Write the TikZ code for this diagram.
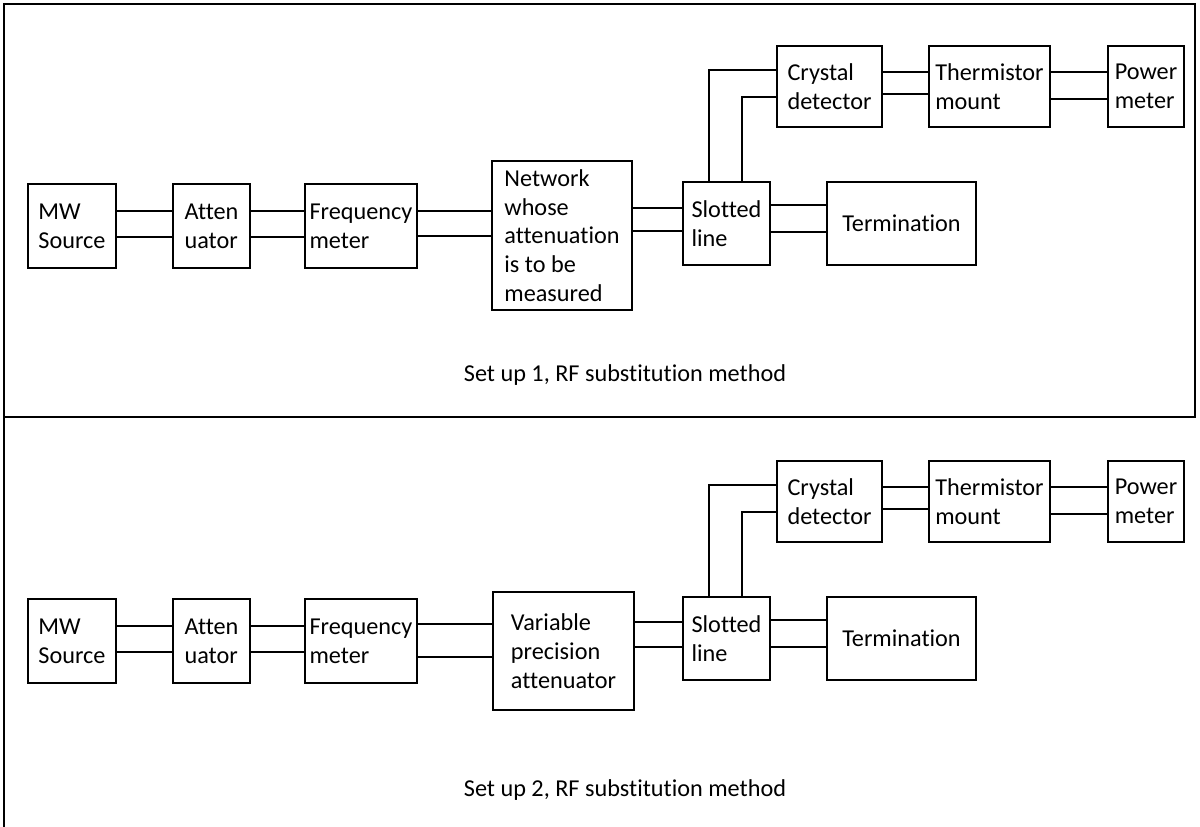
\documentclass[tikz,border=0pt]{standalone}
\usepackage{fontspec}
\setmainfont[Ligatures=NoCommon]{Carlito}

\begin{document}
\begin{tikzpicture}
		[x=0.02cm,y=-0.02cm,
		%Styles
		block/.style={draw,line width=1.1pt,inner sep=0pt,align=left,font=\fontsize{13.8}{16.4}\selectfont},
		guide/.style={line width=1.1pt},
		frame/.style={line width=1.3pt},
		caption/.style={inner sep=0pt,font=\fontsize{13.8}{16}\selectfont}
		]
		
		\useasboundingbox (0,0) rectangle (1200,827);
		
		%Frames
		\draw[frame] (4,827) -- (4,4) -- (1195,4) -- (1195,417) -- (4,417);
		
		%The box under test, then the precision attenuator
		\node[block,minimum width=2.8cm,minimum height=2.98cm] (a-mid) at (562,235.5) {Network\\whose\\attenuation\\is to be\\measured};
		\node[block,minimum width=2.82cm,minimum height=2.36cm] (b-mid) at (563.5,651) {Variable\\precision\\attenuator};
		
		%The rest of the bench, once per set up
		\foreach \p/\dy/\n/\fa/\fb/\sa/\sb in {a/0/1/211/236/208/231, b/415/2/209/242/207/232}{
			\begin{scope}[shift={(0,\dy)}]
				\node[block,minimum width=1.76cm,minimum height=1.68cm] (\p-src) at (72,226) {MW\\Source};
				\node[block,minimum width=1.54cm,minimum height=1.68cm] (\p-att) at (211.5,226) {Atten\\uator};
				\node[block,minimum width=2.24cm,minimum height=1.68cm] (\p-freq) at (361,226) {Frequency\\meter};
				\node[block,minimum width=1.74cm,minimum height=1.66cm] (\p-slot) at (726.5,223.5) {Slotted\\line};
				\node[block,minimum width=2.98cm,minimum height=1.66cm] (\p-term) at (901.5,223.5) {Termination};
				\node[block,minimum width=2.1cm,minimum height=1.62cm] (\p-xtal) at (829.5,86.5) {Crystal\\detector};
				\node[block,minimum width=2.42cm,minimum height=1.62cm] (\p-therm) at (989.5,86.5) {Thermistor\\mount};
				\node[block,minimum width=1.52cm,minimum height=1.62cm] (\p-pm) at (1146,86.5) {Power\\meter};
				
				%two wire links
				\foreach \a/\b/\u/\l in {src/att/211/237, att/freq/211/237, freq/mid/\fa/\fb, mid/slot/\sa/\sb, slot/term/205/232, xtal/therm/72/94, therm/pm/72/99}{
					\draw[guide] (\p-\a.east |- 0,\u) -- (\p-\b.west |- 0,\u);
					\draw[guide] (\p-\a.east |- 0,\l) -- (\p-\b.west |- 0,\l);
				}
				\draw[guide] (\p-slot.north -| 709,0) |- (\p-xtal.west |- 0,70);
				\draw[guide] (\p-slot.north -| 742,0) |- (\p-xtal.west |- 0,97);
				
				\node[caption] (\p-cap) at (625,375) {Set up \n, RF substitution method};
			\end{scope}
		}
	\end{tikzpicture}
\end{document}
